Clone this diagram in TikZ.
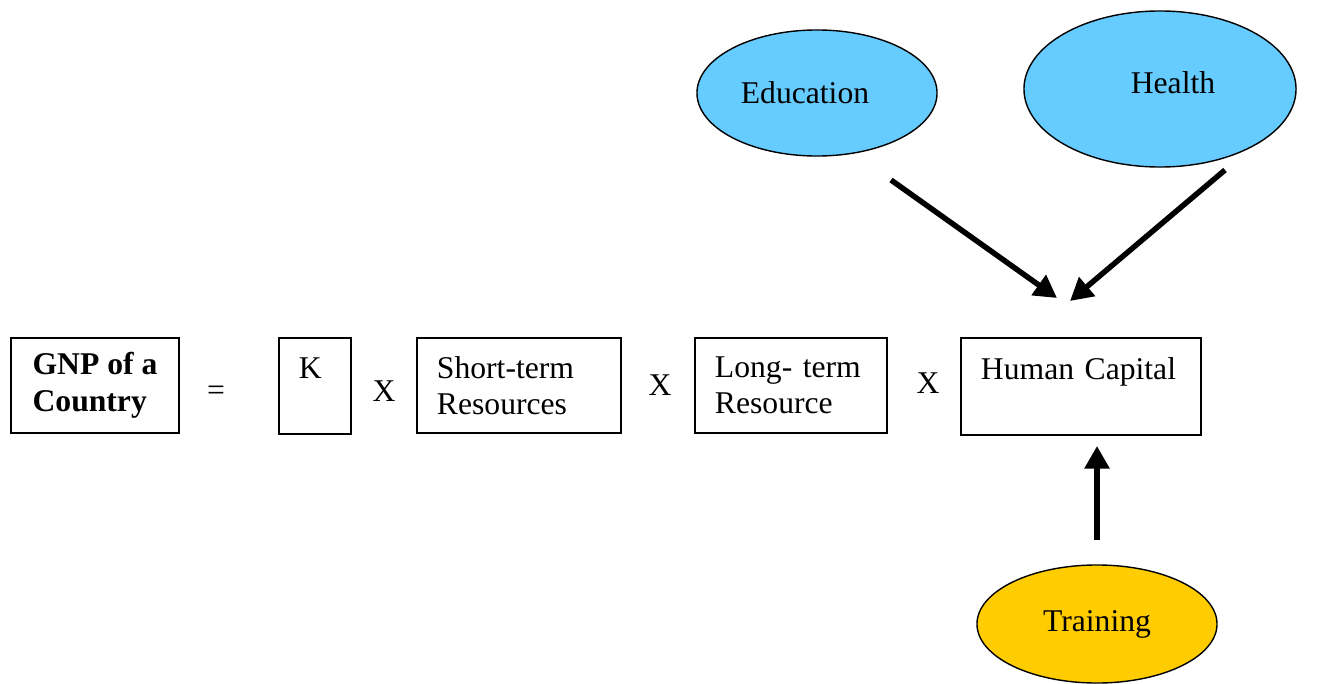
\documentclass[tikz,border=0pt]{standalone}
\usepackage{fontspec}
\setmainfont{Liberation Serif}
\usetikzlibrary{arrows.meta,shapes.geometric}
\tikzset{
    box/.style={draw, line width=1.4pt, inner xsep=0.5cm, inner ysep=0pt, align=left},
    blob/.style={draw, ellipse, line width=1pt, inner sep=0pt},
    push/.style={line width=3.9pt, -{Triangle[length=16pt, width=17pt]}},
}
\definecolor{skyblue}{HTML}{66CCFF}
\definecolor{gold}{HTML}{FFCC00}
\begin{document}
\begin{tikzpicture}[x=0.025cm, y=-0.025cm, font=\fontsize{22.5}{26}\selectfont]
    \useasboundingbox (0,0) rectangle (1336,684);
    % the product
    \node[box, minimum width=4.2cm, minimum height=2.375cm] (gnp) at (95,385.5) {\textbf{GNP of a}\\\textbf{Country}};
    \node (eq) at (216,393) {=};
    \node[box, text width=0.8cm, minimum height=2.4cm] (k) at (315,386) {K\\~};
    \node (x1) at (384,391) {X};
    \node[box, text width=4.1cm, minimum height=2.375cm] (short) at (519,385.5) {Short-term\\Resources};
    \node (x2) at (660,385) {X};
    \node[box, text width=3.8cm, minimum height=2.375cm] (long) at (791,385.5) {Long- term\\Resource};
    \node (x3) at (928,383) {X};
    \node[box, text width=5cm, minimum height=2.425cm] (human) at (1081,386.5) {Human Capital\\~};
    % what feeds human capital
    \node[blob, fill=skyblue, minimum width=6cm, minimum height=3.15cm] (edu) at (817,93) {Education\kern0.6cm};
    \node[blob, fill=skyblue, minimum width=6.8cm, minimum height=3.9cm] (health) at (1160,89) {\kern0.65cm\raisebox{0.3cm}{Health}};
    \node[blob, fill=gold, minimum width=6cm, minimum height=2.95cm] (train) at (1097,624) {Training};
    \coordinate (eduTail) at (891,180);
    \coordinate (eduTip) at (1057,298);
    \coordinate (healthTail) at (1225,170);
    \coordinate (healthTip) at (1070,301);
    \coordinate (trainTail) at (1097,540);
    \coordinate (trainTip) at (1097,446);
    \draw[push] (eduTail) -- (eduTip);
    \draw[push] (healthTail) -- (healthTip);
    \draw[push] (trainTail) -- (trainTip);
\end{tikzpicture}
\end{document}
